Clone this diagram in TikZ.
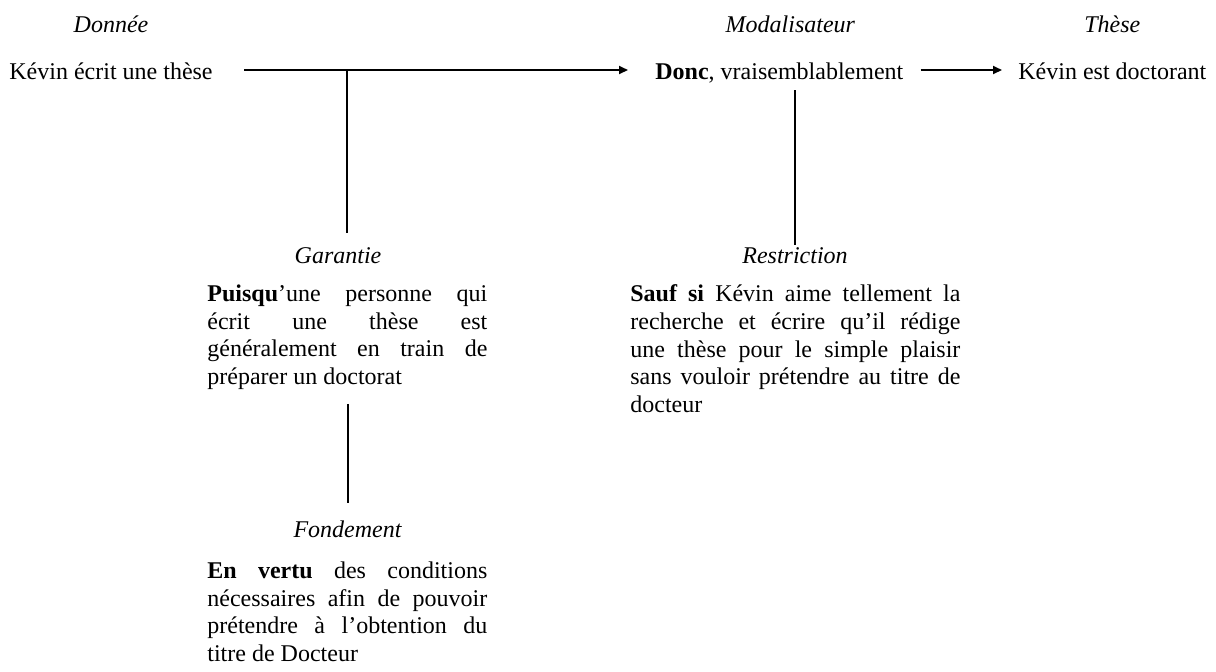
\documentclass[tikz,border=0pt]{standalone}
\usepackage{fontspec}
\setmainfont{Liberation Serif}
\usetikzlibrary{arrows.meta,positioning}
\tolerance=10000
\hbadness=10000

\begin{document}
\begin{tikzpicture}[x=0.5pt,y=-0.5pt,
		every node/.style={inner sep=0pt, font=\fontsize{12}{13.8}\selectfont},
		lbl/.style={font=\fontsize{12}{13.8}\selectfont\itshape},
		bloc/.style={anchor=north west, align=justify},
		trait/.style={line width=1pt},
		every edge/.style={draw, line width=1pt, -{Triangle[length=4.5pt,width=4pt]}}]

		\useasboundingbox (0,0) rectangle (1216,671);

		% Nodes
		\node[anchor=base] (donnee) at (111,79) {Kévin écrit une thèse};
		\node[anchor=base west] (donc) at (655,79) {\textbf{Donc}, vraisemblablement};
		\node[anchor=base west] (these) at (1018,79) {Kévin est doctorant};

		\node[lbl, above=23.5pt of donnee.base, anchor=base] (l-donnee) {Donnée};
		\node[lbl, above=23.5pt of donc.base, anchor=base, xshift=5.5pt] (l-donc) {Modalisateur};
		\node[lbl, above=23.5pt of these.base, anchor=base] (l-these) {Thèse};

		\node[lbl, anchor=base] (garantie) at (338,263) {Garantie};
		\node[lbl, anchor=base] (restriction) at (795,263) {Restriction};
		\node[lbl, anchor=base] (fondement) at (347.5,537) {Fondement};

		\node[bloc, text width=140pt] (bloc-g) at (207,284.6) {\textbf{Puisqu}'une~personne~qui \linebreak écrit~une~thèse~est \linebreak généralement~en~train~de \linebreak préparer un doctorat};
		\node[bloc, text width=165pt] (bloc-r) at (630,284.6) {\textbf{Sauf~si}~Kévin~aime~tellement~la \linebreak recherche~et~écrire~qu'il~rédige \linebreak une~thèse~pour~le~simple~plaisir \linebreak sans~vouloir~prétendre~au~titre~de \linebreak docteur};
		\node[bloc, text width=140pt] (bloc-f) at (207,561.6) {\textbf{En~vertu}~des~conditions \linebreak nécessaires~afin~de~pouvoir \linebreak prétendre~à~l'obtention~du \linebreak titre de Docteur};

		\coordinate (jg) at (347,70);

		% Edges
		\draw ([shift={(15.5pt,4.5pt)}]donnee.base east) edge ([shift={(-13.5pt,4.5pt)}]donc.base west);
		\draw ([shift={(8.5pt,4.5pt)}]donc.base east) edge ([shift={(-8pt,4.5pt)}]these.base west);
		\draw[trait, shorten >=7pt] (jg) -- (jg |- garantie.north);
		\draw[trait] ([yshift=-5.5pt]restriction.north |- donc.base) -- ([yshift=1pt]restriction.north);
		\draw[trait, shorten <=7pt, shorten >=8.5pt] (fondement.north |- bloc-g.south) -- (fondement.north);
	\end{tikzpicture}
\end{document}
